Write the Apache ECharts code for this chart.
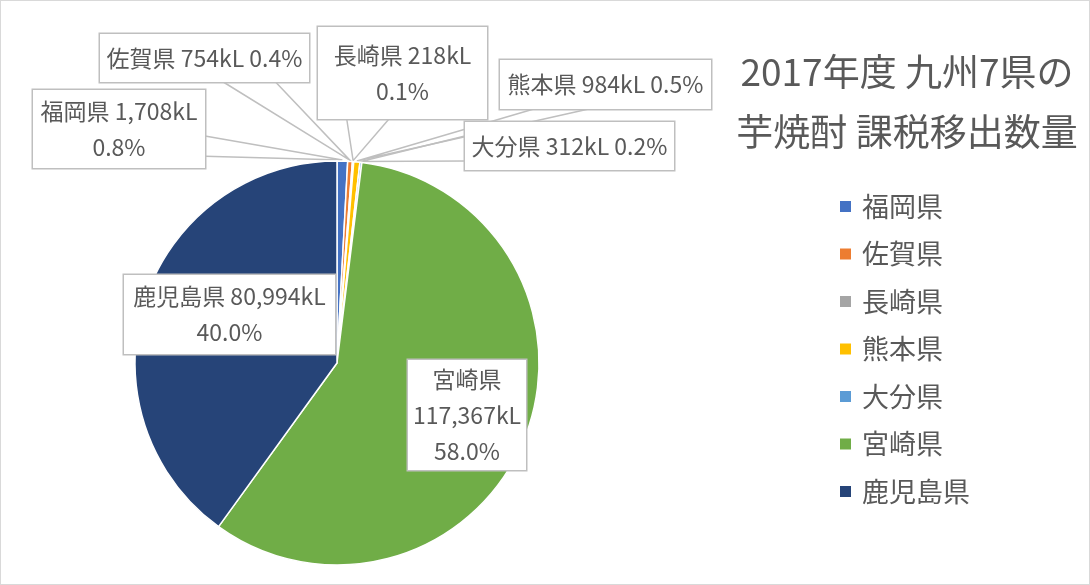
<!DOCTYPE html>
<html>
<head>
<meta charset="utf-8">
<title>2017年度 九州7県の芋焼酎 課税移出数量</title>
<script src="https://cdn.jsdelivr.net/npm/echarts@6.0.0/dist/echarts.min.js"></script>
<style>
  html, body { margin: 0; padding: 0; background: #fff; }
  #chart { width: 1090px; height: 585px; box-sizing: border-box; border: 1px solid #d9d9d9; }
</style>
</head>
<body>
<div id="chart"></div>
<script>
// データ（kL）
const prefectures = ['福岡県', '佐賀県', '長崎県', '熊本県', '大分県', '宮崎県', '鹿児島県']
const volumes = [1708, 754, 218, 984, 312, 117367, 80994]
const colors = ['#4472C4', '#ED7D31', '#A5A5A5', '#FFC000', '#5B9BD5', '#70AD47', '#264478']
// ラベルの書式（改行位置）
const labelFormats = [
  '{b} {c}kL\n{d}%',
  '{b} {c}kL {d}%',
  '{b} {c}kL\n{d}%',
  '{b} {c}kL {d}%',
  '{b} {c}kL {d}%',
  '{b}\n{c}kL\n{d}%',
  '{b} {c}kL\n{d}%'
]

/*
 * 吹き出しの枠: 中心(cx, cy)、幅 w、高さ h、引き出し線の付く辺と位置（割合）
 */
const callouts = [
  { cx: 118, cy: 128, w: 172, h: 78, side: 'right', from: 0.59, to: 0.85 },
  { cx: 203.5, cy: 57, w: 209, h: 48, side: 'bottom', from: 0.59, to: 0.84 },
  { cx: 401.5, cy: 72, w: 169, h: 92, side: 'bottom', from: 0.17, to: 0.42 },
  { cx: 604.5, cy: 83.5, w: 211, h: 49, side: 'bottom', from: 0.16, to: 0.42 },
  { cx: 568.5, cy: 145, w: 209, h: 48, side: 'left', from: 0.29, to: 0.81 },
  { cx: 466, cy: 414, w: 118, h: 110, side: null },
  { cx: 228.5, cy: 313.5, w: 211, h: 79, side: null }
]

const FONT = "'Noto Sans CJK JP', 'Noto Sans', sans-serif"
const TEXT_COLOR = '#595959'
const LINE_COLOR = '#bfbfbf'
const LINE_H = 36

function formatLabel(p) {
  return labelFormats[p.dataIndex]
    .replace('{b}', p.name)
    .replace('{c}', p.value.toLocaleString('en-US'))
    .replace('{d}', p.percent.toFixed(1))
}

// 辺上の点
function edgePoint(box, side, t) {
  const left = box.cx - box.w / 2
  const top = box.cy - box.h / 2
  if (side === 'right') return [left + box.w, top + box.h * t]
  if (side === 'left') return [left, top + box.h * t]
  if (side === 'top') return [left + box.w * t, top]
  return [left + box.w * t, top + box.h]
}

const pieData = prefectures.map((name, i) => {
  const box = callouts[i]
  const lines = labelFormats[i].split('\n').length
  const padV = Math.max(0, (box.h - lines * LINE_H) / 2)
  return {
    name: name,
    value: volumes[i],
    itemStyle: { color: colors[i] },
    label: {
      width: box.w,
      padding: [padV, 0, padV, 0]
    },
    labelLine: { show: !!box.side }
  }
})

const chart = echarts.init(document.getElementById('chart'), null, { renderer: 'canvas' })

chart.setOption({
  animation: false,
  backgroundColor: '#fff',
  textStyle: { fontFamily: FONT },
  title: {
    text: '2017年度 九州7県の\n芋焼酎 課税移出数量',
    left: 901,
    top: 36,
    textAlign: 'center',
    textStyle: {
      fontFamily: FONT,
      fontSize: 37,
      fontWeight: 'normal',
      lineHeight: 60,
      color: TEXT_COLOR
    }
  },
  legend: {
    orient: 'vertical',
    left: 837,
    top: 192,
    padding: 0,
    icon: 'rect',
    itemWidth: 13,
    itemHeight: 13,
    itemGap: 20.5,
    textStyle: {
      fontFamily: FONT,
      fontSize: 27,
      lineHeight: 27,
      color: TEXT_COLOR,
      padding: [0, 0, 0, 5]
    },
    data: prefectures
  },
  series: [{
    type: 'pie',
    center: [336, 362],
    radius: 202,
    startAngle: 90,
    clockwise: true,
    avoidLabelOverlap: false,
    percentPrecision: 1,
    itemStyle: { borderColor: '#fff', borderWidth: 1.5 },
    label: {
      show: true,
      position: 'outside',
      formatter: formatLabel,
      fontFamily: FONT,
      fontSize: 23,
      lineHeight: LINE_H,
      color: TEXT_COLOR,
      align: 'center',
      backgroundColor: '#fff',
      borderColor: LINE_COLOR,
      borderWidth: 1.5
    },
    labelLine: {
      show: true,
      length: 10,
      length2: 10,
      lineStyle: { color: LINE_COLOR, width: 1.5 }
    },
    labelLayout: function (params) {
      const box = callouts[params.dataIndex]
      const res = { x: box.cx, y: box.cy, align: 'center', verticalAlign: 'middle' }
      if (box.side && params.labelLinePoints) {
        const apex = params.labelLinePoints[0]
        res.labelLinePoints = [
          edgePoint(box, box.side, box.from),
          [apex[0], apex[1] - 1],
          edgePoint(box, box.side, box.to)
        ]
      }
      return res
    },
    data: pieData
  }]
})
</script>
</body>
</html>
